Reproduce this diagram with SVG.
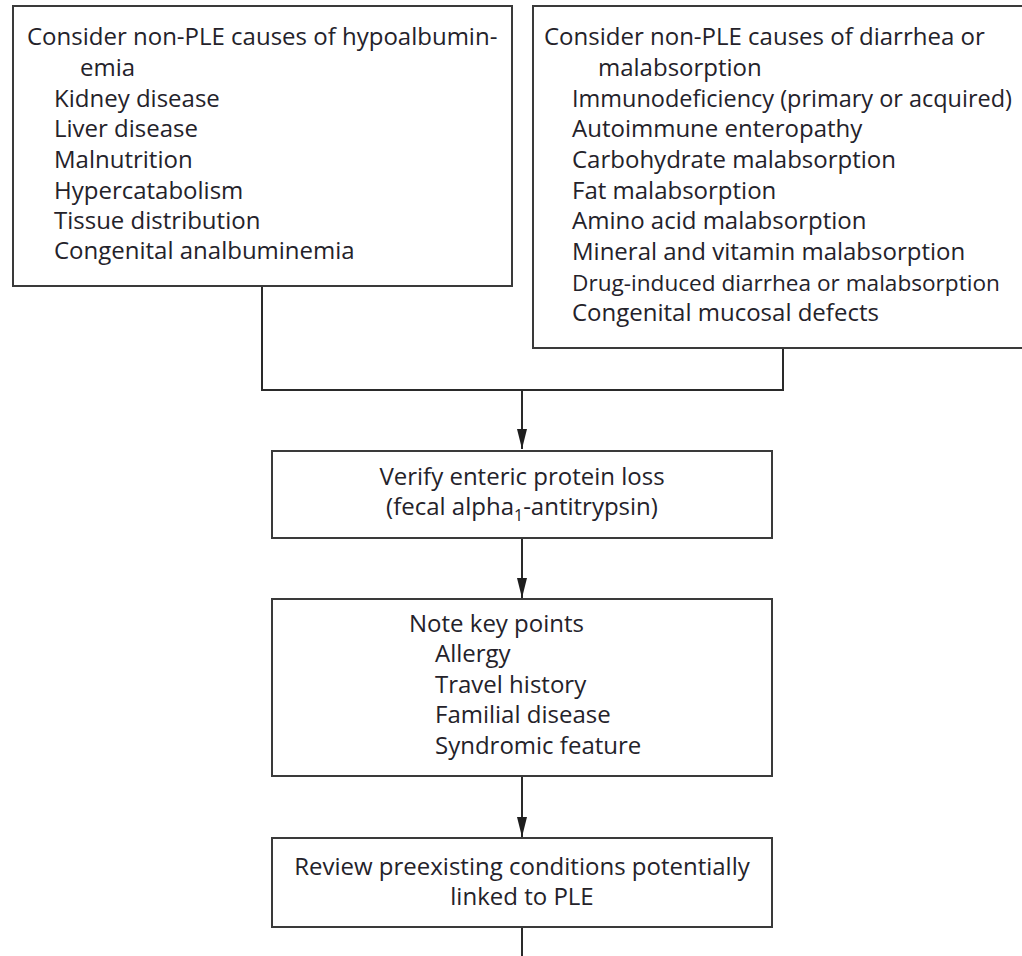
<svg xmlns="http://www.w3.org/2000/svg" width="1022" height="956" viewBox="0 0 1022 956">
  <style>
    .box { fill: #ffffff; stroke: #3a3a3a; stroke-width: 2; }
    .wire { fill: none; stroke: #2a2a2a; stroke-width: 2; }
    .t { font-family: "Open Sans", "Noto Sans", sans-serif; font-size: 24px; fill: #24222a; }
    .c { text-anchor: middle; }
    .tight { font-size: 22.6px; }
  </style>
  <defs>
    <marker id="head" markerUnits="userSpaceOnUse" viewBox="0 0 20 10" markerWidth="20" markerHeight="10" refX="20" refY="5" orient="auto">
      <path d="M0,0 L20,5 L0,10 Z" fill="#1e1e1e"/>
    </marker>
  </defs>

  <rect width="1022" height="956" fill="#ffffff"/>

  <!-- connectors -->
  <g id="connectors">
    <polyline class="wire" points="262,286 262,390 783,390 783,348"/>
    <line class="wire" x1="522" y1="390" x2="522" y2="449" marker-end="url(#head)"/>
    <line class="wire" x1="522" y1="538" x2="522" y2="598" marker-end="url(#head)"/>
    <line class="wire" x1="522" y1="776" x2="522" y2="837" marker-end="url(#head)"/>
    <line class="wire" x1="522" y1="927" x2="522" y2="956"/>
  </g>

  <!-- hypoalbuminemia causes -->
  <g id="hypoalbuminemia">
    <rect class="box" x="13" y="6" width="499" height="280"/>
    <text class="t" x="27" y="45">Consider non-PLE causes of hypoalbumin-</text>
    <text class="t" x="80" y="76">emia</text>
    <text class="t" x="54" y="107">Kidney disease</text>
    <text class="t" x="54" y="137">Liver disease</text>
    <text class="t" x="54" y="168">Malnutrition</text>
    <text class="t" x="54" y="199">Hypercatabolism</text>
    <text class="t" x="54" y="229">Tissue distribution</text>
    <text class="t" x="54" y="259">Congenital analbuminemia</text>
  </g>

  <!-- diarrhea / malabsorption causes -->
  <g id="malabsorption">
    <rect class="box" x="533" y="6" width="520" height="342"/>
    <text class="t" x="544" y="45">Consider non-PLE causes of diarrhea or</text>
    <text class="t" x="598" y="76">malabsorption</text>
    <text class="t" x="572" y="107" textLength="440" lengthAdjust="spacingAndGlyphs">Immunodeficiency (primary or acquired)</text>
    <text class="t" x="572" y="137">Autoimmune enteropathy</text>
    <text class="t" x="572" y="168">Carbohydrate malabsorption</text>
    <text class="t" x="572" y="199">Fat malabsorption</text>
    <text class="t" x="572" y="229">Amino acid malabsorption</text>
    <text class="t" x="572" y="260">Mineral and vitamin malabsorption</text>
    <text class="t tight" x="572" y="291">Drug-induced diarrhea or malabsorption</text>
    <text class="t" x="572" y="321">Congenital mucosal defects</text>
  </g>

  <!-- protein loss check -->
  <g id="verify">
    <rect class="box" x="272" y="451" width="500" height="87"/>
    <text class="t c" x="522" y="485">Verify enteric protein loss</text>
    <text class="t c" x="522" y="515">(fecal alpha<tspan font-size="16" dy="6">1</tspan><tspan dy="-6">-antitrypsin)</tspan></text>
  </g>

  <!-- history notes -->
  <g id="keypoints">
    <rect class="box" x="272" y="599" width="500" height="177"/>
    <text class="t" x="409" y="632">Note key points</text>
    <text class="t" x="435" y="662">Allergy</text>
    <text class="t" x="435" y="693">Travel history</text>
    <text class="t" x="435" y="723">Familial disease</text>
    <text class="t" x="435" y="754">Syndromic feature</text>
  </g>

  <!-- preexisting conditions -->
  <g id="review">
    <rect class="box" x="272" y="838" width="500" height="89"/>
    <text class="t c" x="522" y="875">Review preexisting conditions potentially</text>
    <text class="t c" x="522" y="905">linked to PLE</text>
  </g>
</svg>
